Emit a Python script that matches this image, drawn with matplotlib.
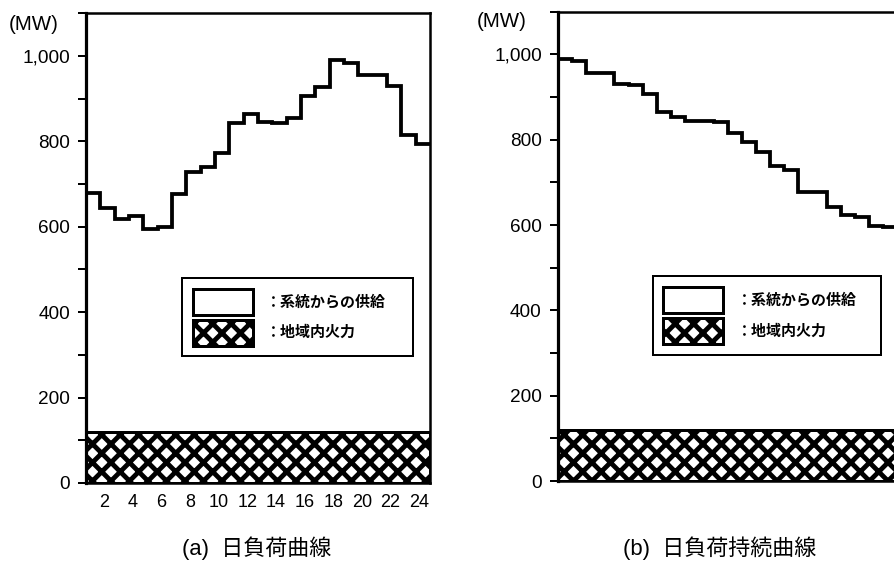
import numpy as np
import matplotlib
matplotlib.use("Agg")
import matplotlib.pyplot as plt
from matplotlib.patches import Patch

# hourly load (MW)
hours = np.arange(25)
load = [678, 643, 618, 624, 595, 599, 677, 729, 739, 772, 843, 864,
        844, 842, 854, 907, 928, 990, 984, 956, 956, 930, 815, 794]
local_thermal = 120  # MW, hatched base
duration = sorted(load, reverse=True)

xtick_hours = list(range(2, 25, 2))
ytick_major = list(range(0, 1001, 200))
ytick_minor = list(range(100, 1101, 200))
ytick_labels = ["0", "200", "400", "600", "800", "1,000"]
legend_labels = ["：系統からの供給", "：地域内火力"]
captions = ["(a)  日負荷曲線", "(b)  日負荷持続曲線"]

# dpi picked so that hatch 'xx' gives the ~18 px diamond pitch of the scan
DPI = 111
PX = 72 / DPI  # points per pixel

plt.rcParams["hatch.linewidth"] = 4.8 * PX
latin = ["Liberation Sans", "Noto Sans CJK JP"]
cjk = ["Noto Sans CJK JP", "DejaVu Sans"]
plt.rcParams["font.family"] = latin

fig = plt.figure(figsize=(894.01 / DPI, 562.01 / DPI), dpi=DPI)
ax_a = fig.add_axes([0.0962, 0.1406, 0.3848, 0.836])
ax_b = fig.add_axes([0.624, 0.144, 0.380, 0.835])


def draw_panel(ax, values, show_x):
    ax.fill_between(hours, 0, local_thermal, facecolor="white",
                    edgecolor="black", hatch="xx", linewidth=3.0 * PX,
                    zorder=2)
    ax.stairs(values, hours, baseline=None, color="black",
              linewidth=3.8 * PX, zorder=3)
    ax.set_xlim(0, 24)
    ax.set_ylim(0, 1100)
    for side in ax.spines:
        ax.spines[side].set_linewidth(2.5 * PX)
    ax.spines["left"].set_linewidth(3.2 * PX)
    ax.set_yticks(ytick_major)
    ax.set_yticklabels(ytick_labels)
    ax.set_yticks(ytick_minor, minor=True)
    ax.tick_params(axis="y", which="both", direction="out", length=8 * PX,
                   width=2.0 * PX, pad=8 * PX, labelsize=19 * PX)
    if show_x:
        ax.set_xticks([h - 0.75 for h in xtick_hours])
        ax.set_xticklabels([str(h) for h in xtick_hours])
        ax.tick_params(axis="x", length=0, pad=11 * PX, labelsize=18 * PX)
    else:
        ax.set_xticks([])
    handles = [Patch(facecolor="white", edgecolor="black", linewidth=3.0 * PX),
               Patch(facecolor="white", edgecolor="black", linewidth=3.0 * PX,
                     hatch="xx")]
    # box spans x 0.279..0.95 of the axes, top edge at 0.436
    leg = ax.legend(handles, legend_labels, loc="upper left",
                    bbox_to_anchor=(0.279, 0.236, 0.671, 0.2),
                    mode="expand", borderaxespad=0,
                    frameon=True, fancybox=False, edgecolor="black",
                    framealpha=1.0,
                    handlelength=4.0, handleheight=2.3, handletextpad=0.9,
                    labelspacing=0.3, borderpad=0.72,
                    prop={"family": cjk, "size": 15 * PX, "weight": "bold"})
    leg.get_frame().set_linewidth(2.0 * PX)
    leg.set_zorder(5)


draw_panel(ax_a, load, True)
draw_panel(ax_b, duration, False)

fig.text(9 / 894, 1 - 24 / 562, "(MW)", fontsize=20.5 * PX, va="center",
         ha="left")
fig.text(477 / 894, 1 - 21 / 562, "(MW)", fontsize=20.5 * PX, va="center",
         ha="left")
fig.text(257 / 894, 1 - 548 / 562, captions[0], fontsize=22 * PX,
         ha="center", va="center", family=latin)
fig.text(720 / 894, 1 - 548 / 562, captions[1], fontsize=22 * PX,
         ha="center", va="center", family=latin)

fig.savefig("out.png", dpi=DPI)
